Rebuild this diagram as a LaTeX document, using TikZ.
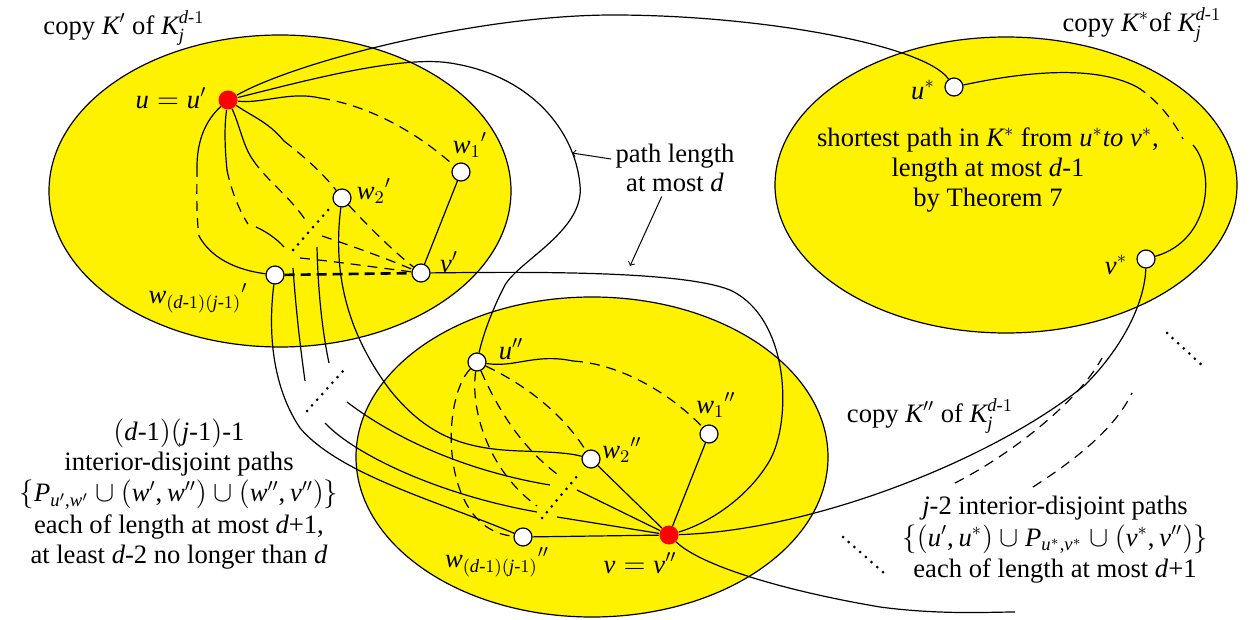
\documentclass[tikz,border=0pt]{standalone}
\usepackage{fontspec}
\setmainfont{Liberation Serif}
\usepackage{amsmath}
\DeclareSymbolFont{letters}{TU}{\rmdefault}{m}{it}
\DeclareSymbolFont{operators}{TU}{\rmdefault}{m}{n}
\mathcode`\,="602C
\usetikzlibrary{shapes.geometric, calc}
\newcommand{\hy}{\text{-}}

\begin{document}
\begin{tikzpicture}[x=0.5pt, y=-0.5pt,
  font=\fontsize{13.3}{14.8}\selectfont,
  copyset/.style={ellipse, draw, fill=yellow, line width=0.6pt, inner sep=0pt},
  vtx/.style={circle, draw, fill=white, line width=0.6pt, inner sep=0pt, minimum size=9pt},
  hub/.style={circle, fill=red, inner sep=0pt, minimum size=9.5pt},
  lbl/.style={inner sep=0pt},
  txt/.style={align=center, inner sep=0pt},
  conn/.style={line width=0.6pt},
  dconn/.style={line width=0.6pt, dash pattern=on 5pt off 3.5pt},
  wdash/.style={line width=1.3pt, dash pattern=on 5pt off 3pt},
  elide/.style={line width=1.5pt, line cap=round, dash pattern=on 0pt off 3.8pt},
  pointer/.style={->, >=to, line width=0.5pt},
]
\useasboundingbox (0,0) rectangle (1254,620);

%% ── copies of K_j^{d-1} ───────────────────────────────────────────
\node[copyset, minimum width=231pt, minimum height=156pt] (kp)  at (280,191) {};
\node[copyset, minimum width=231pt, minimum height=148pt] (ks)  at (1006,185) {};
\node[copyset, minimum width=236pt, minimum height=160pt] (kpp) at (592,457) {};

%% ── vertices of K' ─────────────────────────────────────────────────
\node[hub] (up)  at (228,100) {};
\node[vtx] (wa1) at (461,172) {};
\node[vtx] (wa2) at (342,198) {};
\node[vtx] (va)  at (421,273) {};
\node[vtx] (wad) at (275,275) {};

%% ── vertices of K* ─────────────────────────────────────────────────
\node[vtx] (us) at (954,87) {};
\node[vtx] (vs) at (1146,259) {};

%% ── vertices of K'' ────────────────────────────────────────────────
\node[vtx] (ub)  at (477,362) {};
\node[vtx] (wb1) at (709,434) {};
\node[vtx] (wb2) at (591,459) {};
\node[vtx] (wbd) at (523,537) {};
\node[hub] (vb)  at (669,535) {};

%% ── inside K' ──────────────────────────────────────────────────────
\coordinate (a1) at (320,98);
\draw[conn]  (up) .. controls (262,104) and (290,91) .. (a1);
\draw[dconn] (a1) .. controls (372,106) and (420,135) .. (wa1);
\coordinate (a2) at (284,141);
\draw[conn]  (up) .. controls (255,118) and (268,122) .. (a2);
\draw[dconn] (a2) .. controls (302,155) and (322,172) .. (wa2);
\coordinate (a3) at (253,160);
\coordinate (a4) at (308,224);
\draw[conn]  (up) .. controls (240,126) and (243,146) .. (a3);
\draw[dconn] (a3) .. controls (266,180) and (292,198) .. (a4);
\coordinate (a5) at (227,170);
\coordinate (a6) at (248,224);
\coordinate (a7) at (256,227);
\coordinate (a8) at (284,247);
\draw[conn]  (up) .. controls (224,128) and (225,150) .. (a5);
\draw[dconn] (a5) .. controls (231,190) and (239,210) .. (a6);
\draw[conn]  (a7) .. controls (265,231) and (276,238) .. (a8);
\coordinate (a9) at (197,167);
\coordinate (a10) at (199,236);
\draw[conn]  (up) .. controls (206,120) and (197,140) .. (a9);
\draw[dconn] (a9) .. controls (197,190) and (196,214) .. (a10);
\draw[conn]  (a10) .. controls (211,258) and (236,270) .. (wad);

\draw[dconn] (wa2) .. controls (370,228) and (392,250) .. (va);
\coordinate (a11) at (322,236);
\coordinate (a12) at (300,258);
\draw[dconn] (a11) .. controls (352,246) and (385,258) .. (va);
\draw[dconn] (a12) .. controls (340,262) and (380,268) .. (va);
\draw[wdash] (wad) -- (va);
\draw[conn]  (wa1) -- (va);
\draw[elide] (293,250) -- (329,209);

%% ── from K' down to K'' ────────────────────────────────────────────
\draw[conn] (wad) .. controls (268,332) and (272,386) .. (300,428)
                  .. controls (340,475) and (440,502) .. (wbd);
\draw[conn] (293,268) .. controls (296,310) and (300,345) .. (305,381);
\draw[conn] (317,247) .. controls (318,290) and (322,330) .. (329,363);
\draw[conn] (wa2) .. controls (333,270) and (345,330) .. (390,390)
                  .. controls (430,440) and (470,449) .. (520,451)
                  .. controls (552,452) and (570,453) .. (wb2);
\draw[conn] (347,402) .. controls (390,435) and (460,470) .. (550,485);
\draw[conn] (325,423) .. controls (355,455) and (440,495) .. (537,512);
\draw[elide] (307,411) -- (343,371);

%% ── inside K'' ─────────────────────────────────────────────────────
\coordinate (b1) at (573,361);
\draw[conn]  (ub) .. controls (515,368) and (535,353) .. (b1);
\draw[dconn] (b1) .. controls (622,364) and (672,395) .. (wb1);
\draw[dconn] (ub) .. controls (522,383) and (562,412) .. (wb2);
\draw[dconn] (ub) .. controls (493,398) and (515,442) .. (557,474);
\draw[dconn] (ub) .. controls (470,412) and (490,472) .. (537,506);
\draw[dconn] (ub) .. controls (440,400) and (440,530) .. (wbd);
\draw[conn] (wb1) -- (vb);
\draw[conn] (wb2) -- (vb);
\draw[conn] (577,490) -- (vb);
\draw[conn] (557,517) -- (vb);
\draw[conn] (wbd) -- (vb);
\draw[elide] (542,518) -- (578,475);

%% ── inside K* ──────────────────────────────────────────────────────
\coordinate (s1) at (1137,87);
\coordinate (s2) at (1183,139);
\coordinate (s3) at (1193,145);
\draw[conn]  (us) .. controls (1010,75) and (1090,62) .. (s1);
\draw[dconn] (s1) .. controls (1155,98) and (1172,118) .. (s2);
\draw[conn]  (s3) .. controls (1215,170) and (1212,240) .. (vs);

%% ── long paths between copies ──────────────────────────────────────
\draw[conn] (up) .. controls (300,60) and (480,15) .. (613,15)
                 .. controls (760,15) and (925,45) .. (us);
\draw[conn] (up) .. controls (300,82) and (400,55) .. (450,63)
                 .. controls (530,75) and (575,130) .. (580,185)
                 .. controls (585,230) and (520,260) .. (505,285)
                 .. controls (492,310) and (483,335) .. (ub);
\draw[conn] (va) .. controls (520,272) and (680,270) .. (730,290)
                 .. controls (790,318) and (792,420) .. (770,460)
                 .. controls (750,495) and (712,522) .. (vb);
\draw[conn] (vs) .. controls (1145,300) and (1125,345) .. (1085,385)
                 .. controls (1000,455) and (820,530) .. (vb);
\coordinate (vend) at (1015,612);
\draw[conn] (vb) .. controls (700,565) and (780,590) .. (880,607)
                 .. controls (940,615) and (990,612) .. (vend);
\draw[dconn] (955,483) .. controls (1010,455) and (1078,402) .. (1102,358);
\draw[dconn] (1033,487) .. controls (1078,458) and (1115,428) .. (1132,393);
\draw[elide] (1167,333) -- (1205,368);
\draw[elide] (843,537) -- (884,573);

%% ── labels ─────────────────────────────────────────────────────────
\node[lbl] (tkp)  at (124,28)  {copy $K'$ of $K_j^{d\hy1}$};
\node[lbl] (tks)  at (1142,25) {copy $K^*$of $K_j^{d\hy1}$};
\node[lbl] (tkpp) at (930,416) {copy $K''$ of $K_j^{d\hy1}$};

\node[lbl] (lup)  at (171,98)  {$u = u'$};
\node[lbl] (lwa1) at (470,145) {$w_1{}'$};
\node[lbl] (lwa2) at (374,191) {$w_2{}'$};
\node[lbl] (lva)  at (449,262) {$v'$};
\node[lbl] (lwad) at (198,298) {$w_{(d\hy1)(j\hy1)}{}'$};

\node[lbl] (lus) at (923,90)   {$u^*$};
\node[lbl] (lvs) at (1116,265) {$v^*$};

\node[lbl] (lub)  at (511,349) {$u''$};
\node[lbl] (lwb1) at (716,405) {$w_1{}''$};
\node[lbl] (lwb2) at (622,450) {$w_2{}''$};
\node[lbl] (lwbd) at (497,562) {$w_{(d\hy1)(j\hy1)}{}''$};
\node[lbl] (lvb)  at (640,563) {$v = v''$};

\node[txt] (sp) at (988,170)
  {shortest path in $K^*$ from $u^*$\textit{to} $v^*$,\\length at most $d$-1\\by Theorem 7};

\node[txt, inner sep=2pt] (pl) at (675,168) {path length\\at most $d$};
\coordinate (pt1) at (572,153);
\coordinate (pt2) at (630,266);
\draw[pointer] (pl.172) -- (pt1);
\draw[pointer] (pl.245) -- (pt2);

\node[txt] (lpaths) at (179,494)
  {$(d$-1$)(j$-1$)$-1\\interior-disjoint paths\\[1pt]
   $\{P_{u',w'}\cup(w',w'')\cup(w'',v'')\}$\\[1pt]
   each of length at most $d$+1,\\at least $d$-2 no longer than $d$};
\node[txt] (rpaths) at (1055,540)
  {$j$-2 interior-disjoint paths\\[1pt]
   $\{(u',u^*)\cup P_{u^*,v^*}\cup(v^*,v'')\}$\\[1pt]
   each of length at most $d$+1};

\end{tikzpicture}
\end{document}
